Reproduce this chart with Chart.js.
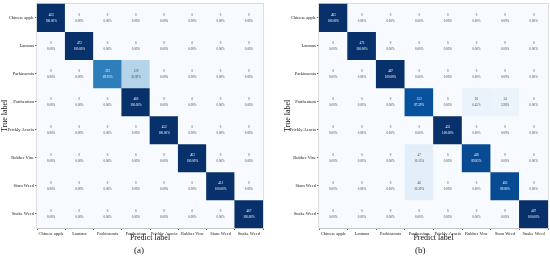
<!DOCTYPE html>
<html>
<head>
<meta charset="utf-8">
<script src="https://cdn.jsdelivr.net/npm/chart.js@4.4.0/dist/chart.umd.min.js"></script>
<style>
  body { margin: 0; background: #fff; width: 550px; height: 259px; overflow: hidden; position: relative; }
  .panel { position: absolute; top: 0; height: 259px; }
  .tag { position: absolute; top: 245px; font: 9px 'Liberation Serif', serif; color: #111; }
</style>
</head>
<body>
<div class="panel" style="left:0;width:270px"><canvas id="cmA"></canvas></div>
<div class="panel" style="left:275px;width:275px"><canvas id="cmB"></canvas></div>
<div class="tag" style="left:134px">(a)</div>
<div class="tag" style="left:415px">(b)</div>
<script>
const classes = ['Chinese apple', 'Lantana', 'Parkinsonia', 'Parthenium', 'Prickly Acacia', 'Rubber Vine', 'Siam Weed', 'Snake Weed'];

// rows = true label, cols = predicted label
const countsA = [
  [463, 0, 0, 0, 0, 0, 0, 0],
  [0, 472, 0, 0, 0, 0, 0, 0],
  [0, 0, 323, 139, 0, 0, 0, 0],
  [0, 0, 0, 460, 0, 0, 0, 0],
  [0, 0, 0, 0, 452, 0, 0, 0],
  [0, 0, 0, 0, 0, 463, 0, 0],
  [0, 0, 0, 0, 0, 0, 451, 0],
  [0, 0, 0, 0, 0, 0, 0, 467]
];
const countsB = [
  [463, 0, 0, 0, 0, 0, 0, 0],
  [0, 472, 0, 0, 0, 0, 0, 0],
  [0, 0, 467, 0, 0, 0, 0, 0],
  [0, 0, 0, 353, 0, 26, 24, 0],
  [0, 0, 0, 0, 452, 0, 0, 0],
  [0, 0, 0, 47, 0, 416, 0, 0],
  [0, 0, 0, 46, 0, 0, 405, 0],
  [0, 0, 0, 0, 0, 0, 0, 467]
];

const blues = ['#f7fbff', '#deebf7', '#c6dbef', '#9ecae1', '#6baed6', '#4292c6', '#2171b5', '#08519c', '#08306b'];
function hex(c) { return [1, 3, 5].map(i => parseInt(c.substr(i, 2), 16)); }
function blue(t) {
  const p = Math.max(0, Math.min(1, t)) * (blues.length - 1);
  const i = Math.min(Math.floor(p), blues.length - 2), f = p - i;
  const a = hex(blues[i]), b = hex(blues[i + 1]);
  return 'rgb(' + a.map((v, k) => Math.round(v + (b[k] - v) * f)).join(',') + ')';
}

const serif = "'Liberation Serif', 'Times New Roman', serif";

const cellText = {
  id: 'cellText',
  afterDatasetsDraw(chart) {
    const ctx = chart.ctx, pct = chart.options.plugins.cellText.pct, counts = chart.options.plugins.cellText.counts;
    ctx.save();
    ctx.textAlign = 'center';
    ctx.textBaseline = 'middle';
    chart.data.datasets.forEach((ds, r) => {
      chart.getDatasetMeta(r).data.forEach((bar, c) => {
        const y = (bar.y + bar.base) / 2;
        ctx.fillStyle = pct[r][c] > 0.5 ? '#fff' : '#444';
        ctx.font = '3.2px ' + serif;
        ctx.fillText(String(counts[r][c]), bar.x, y - 3);
        ctx.fillText((pct[r][c] * 100).toFixed(2) + '%', bar.x, y + 3.5);
      });
    });
    ctx.restore();
  },
  beforeDatasetsDraw(chart) {
    const a = chart.chartArea, ctx = chart.ctx;
    ctx.save();
    ctx.strokeStyle = '#d4d4d4';
    ctx.lineWidth = 1.5;
    ctx.strokeRect(a.left, a.top, a.right - a.left, a.bottom - a.top);
    ctx.restore();
  }
};

function makeMatrix(id, counts, yWidth, pad) {
  const pct = counts.map(row => { const s = row.reduce((x, y) => x + y, 0); return row.map(v => v / s); });
  return new Chart(document.getElementById(id), {
    type: 'bar',
    data: {
      labels: classes,
      datasets: classes.map((name, r) => ({
        label: name,
        data: classes.map(() => 1),
        backgroundColor: pct[r].map(v => blue(v)),
        borderWidth: 0,
        barPercentage: 1,
        categoryPercentage: 1
      }))
    },
    options: {
      responsive: true, maintainAspectRatio: false, animation: false,
      layout: { padding: pad },
      plugins: { legend: { display: false }, tooltip: { enabled: false }, cellText: { pct: pct, counts: counts } },
      scales: {
        x: {
          stacked: true,
          grid: { display: true, drawOnChartArea: false, tickLength: 2, color: '#666' },
          border: { color: '#999', width: 1 },
          ticks: { font: { family: serif, size: 4.5 }, color: '#222', padding: 1, maxRotation: 0, autoSkip: false },
          title: { display: true, text: 'Predict label', font: { family: serif, size: 8 }, color: '#111', padding: 0 },
          afterFit: s => { s.height = 15; }
        },
        y: {
          stacked: true, reverse: true, min: 0, max: classes.length,
          grid: { display: true, drawOnChartArea: false, tickLength: 2, color: '#666' },
          border: { color: '#999', width: 1 },
          afterBuildTicks: s => { s.ticks = classes.map((_, i) => ({ value: i + 0.5 })); },
          ticks: { font: { family: serif, size: 4.5 }, color: '#222', padding: 1, callback: v => classes[Math.floor(v)] },
          title: { display: true, text: 'True label', font: { family: serif, size: 8 }, color: '#111', padding: 0 },
          afterFit: s => { s.width = yWidth; }
        }
      }
    },
    plugins: [cellText]
  });
}

makeMatrix('cmA', countsA, 37, { top: 3, right: 7, bottom: 16, left: 0 });
makeMatrix('cmB', countsB, 36, { top: 3, right: 2, bottom: 16, left: 8 });
</script>
</body>
</html>
